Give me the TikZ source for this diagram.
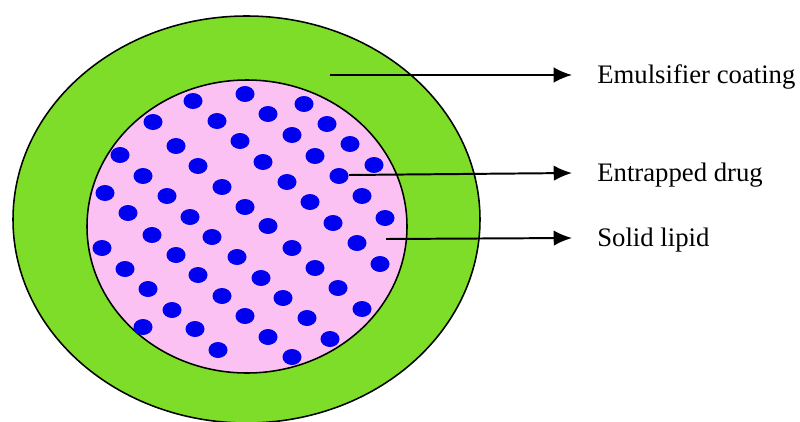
\documentclass[tikz,border=0pt]{standalone}
\usepackage{fontspec}
\setmainfont{Liberation Serif}
\usetikzlibrary{arrows.meta}
\definecolor{coatgreen}{RGB}{125,221,40}
\definecolor{lipidpink}{RGB}{252,193,243}
\definecolor{drugblue}{RGB}{0,0,240}
\tikzset{lab/.style={anchor=west,font=\fontsize{19}{22}\selectfont,inner xsep=17.8pt,inner ysep=0pt,text height=12.6pt,text depth=0pt},
	pointer/.style={-{Latex[length=13pt,width=11pt]},line width=1.4pt}}

\begin{document}
\begin{tikzpicture}[x=0.025cm,y=-0.025cm]
	\useasboundingbox (0,0) rectangle (800,421);
	\def\rx{9.5}
	\def\ry{8}
	\filldraw[fill=coatgreen,line width=1.1pt] (246.5,219.5) ellipse [x radius=233.5,y radius=203.5];
	\filldraw[fill=lipidpink,line width=1.1pt] (247,226.5) ellipse [x radius=160,y radius=146.5];
	\foreach \x/\y in {245/94,193/101,268/114,304/104,153/122,217/121,327/124,292/135,
		240/141,176/146,350/144,120/155,315/156,263/162,198/166,374/165,339/176,143/176,
		287/182,222/187,105/193,167/196,362/196,310/202,245/207,385/218,128/213,190/217,
		333/223,268/226,152/235,212/237,357/243,292/248,102/248,176/255,237/257,380/264,
		315/268,125/269,198/275,261/278,338/288,148/289,222/296,283/298,362/309,172/310,
		245/316,307/318,143/327,195/329,268/337,330/339,218/350,292/357}{
		\fill[drugblue] (\x,\y) ellipse [x radius=\rx,y radius=\ry];
	}
	\coordinate (coatpt) at (330,75);
	\coordinate (drugpt) at (349,175);
	\coordinate (lipidpt) at (386,239);
	\node[lab] (coat) at (572,75) {Emulsifier coating};
	\node[lab] (drug) at (572,173) {Entrapped drug};
	\node[lab] (lipid) at (572,238) {Solid lipid};
	\draw[pointer] (coatpt) -- (coat.west);
	\draw[pointer] (drugpt) -- (drug.west);
	\draw[pointer] (lipidpt) -- (lipid.west);
\end{tikzpicture}
\end{document}
